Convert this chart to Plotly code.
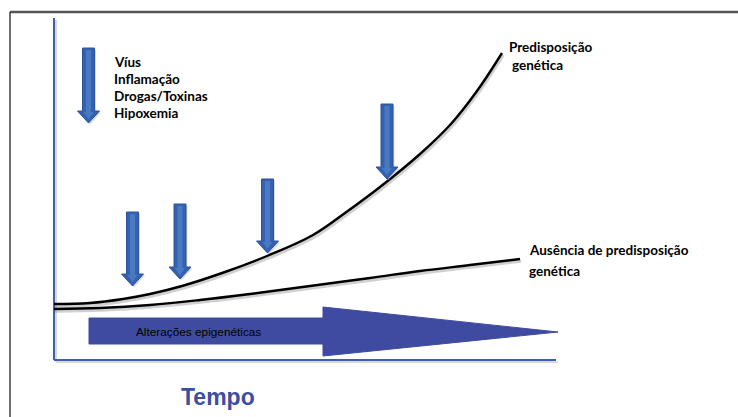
import plotly.graph_objects as go

# Curve data (time vs. disease progression; y in image units, 0 = top)
pred_x = [54, 90, 123, 150, 182, 225, 267, 313, 345, 380, 420, 450, 477, 502]
pred_y = [304, 303, 299, 294, 286, 272, 256, 235, 213, 187, 154, 125, 91, 53]
aus_x = [54, 100, 150, 200, 250, 310, 370, 420, 470, 520]
aus_y = [309, 308, 305, 300, 294, 286, 278, 271, 265, 259]

# Insult arrows: centre x, top of shaft, tip
arrow_cx = [88.5, 132.5, 180, 267.5, 387]
arrow_top = [48, 212, 204, 179, 104]
arrow_tip = [123, 286, 279, 253, 179]

factors = ["Víus", "Inflamação", "Drogas/Toxinas", "Hipoxemia"]

W, H = 738, 417
fig = go.Figure()

def arrow_poly(cx, top, tip, sw=6, hw=11, hl=12):
    hs = tip - hl
    xs = [cx - sw, cx + sw, cx + sw, cx + hw, cx, cx - hw, cx - sw, cx - sw]
    ys = [top, top, hs, hs, tip, hs, hs, top]
    return xs, ys

# frame lines
fig.add_shape(type="line", x0=10, x1=W, y0=12, y1=12, line=dict(color="#555555", width=2.5), layer="below")
fig.add_shape(type="line", x0=10, x1=10, y0=12, y1=H, line=dict(color="#111111", width=1.2), layer="below")

# axes (with soft shadow)
fig.add_shape(type="line", x0=56, x1=56, y0=20, y1=362, line=dict(color="#d8d8d8", width=2), layer="below")
fig.add_shape(type="line", x0=56, x1=558, y0=362, y1=362, line=dict(color="#d8d8d8", width=2), layer="below")
fig.add_shape(type="line", x0=54, x1=54, y0=18, y1=360, line=dict(color="#3d5fae", width=2), layer="below")
fig.add_shape(type="line", x0=54, x1=556, y0=360, y1=360, line=dict(color="#3d5fae", width=2), layer="below")

# big epigenetic arrow
big_x = [89, 323, 323, 558, 323, 323, 89, 89]
big_y = [318, 318, 307, 332, 356, 344, 344, 318]
fig.add_trace(go.Scatter(x=big_x, y=big_y, mode="lines", fill="toself",
                         fillcolor="#3f4ba0", line=dict(color="#3f4ba0", width=1),
                         hoverinfo="skip", showlegend=False))

# curve shadows
for xs, ys in [(pred_x, pred_y), (aus_x, aus_y)]:
    fig.add_trace(go.Scatter(x=[v + 1 for v in xs], y=[v + 2 for v in ys], mode="lines",
                             line=dict(color="rgba(120,120,120,0.35)", width=3.5, shape="spline"),
                             hoverinfo="skip", showlegend=False))
# curves
fig.add_trace(go.Scatter(x=pred_x, y=pred_y, mode="lines", name="Predisposição genética",
                         line=dict(color="#000000", width=2.4, shape="spline", smoothing=1.1), showlegend=False))
fig.add_trace(go.Scatter(x=aus_x, y=aus_y, mode="lines", name="Ausência de predisposição genética",
                         line=dict(color="#000000", width=2.4, shape="spline", smoothing=1.1), showlegend=False))

# insult arrows
for cx, top, tip in zip(arrow_cx, arrow_top, arrow_tip):
    xs, ys = arrow_poly(cx, top, tip)
    fig.add_trace(go.Scatter(x=[v + 1.5 for v in xs], y=[v + 1.5 for v in ys], mode="lines", fill="toself",
                             fillcolor="rgba(150,150,150,0.35)", line=dict(width=0),
                             hoverinfo="skip", showlegend=False))
    fig.add_trace(go.Scatter(x=xs, y=ys, mode="lines", fill="toself",
                             fillcolor="#3462b0", line=dict(color="#2c539c", width=1),
                             hoverinfo="skip", showlegend=False))
    xs2, ys2 = arrow_poly(cx, top + 2, tip - 4, sw=2.5, hw=5, hl=7)
    fig.add_trace(go.Scatter(x=xs2, y=ys2, mode="lines", fill="toself",
                             fillcolor="rgba(90,140,210,0.55)", line=dict(width=0),
                             hoverinfo="skip", showlegend=False))

lab_font = dict(family="Lato", size=13.5, color="#000000")
ann = []
for i, t in enumerate(factors):
    ann.append(dict(x=112, y=62 + i * 17, text="<b>%s</b>" % t, font=lab_font))
ann.append(dict(x=507, y=47, text="<b>Predisposição</b>", font=lab_font))
ann.append(dict(x=510, y=65, text="<b>genética</b>", font=lab_font))
ann.append(dict(x=527, y=250, text="<b>Ausência de predisposição</b>", font=lab_font))
ann.append(dict(x=527, y=271, text="<b>genética</b>", font=lab_font))
ann.append(dict(x=134, y=332, text="Alterações epigenéticas",
                font=dict(family="Liberation Sans", size=11.8, color="#000000")))
ann.append(dict(x=179, y=397, text="<b>Tempo</b>",
                font=dict(family="Liberation Sans", size=23, color="#3c4ea0")))
for a in ann:
    a.update(xref="x", yref="y", xanchor="left", yanchor="middle", showarrow=False)

fig.update_layout(
    width=W, height=H, margin=dict(l=0, r=0, t=0, b=0),
    paper_bgcolor="white", plot_bgcolor="white",
    xaxis=dict(range=[0, W], visible=False, fixedrange=True),
    yaxis=dict(range=[H, 0], visible=False, fixedrange=True),
    annotations=ann, showlegend=False,
)

fig.write_html("out.html", config={"displayModeBar": False},
               post_script="document.body.style.margin='0';document.body.style.overflow='hidden';")
